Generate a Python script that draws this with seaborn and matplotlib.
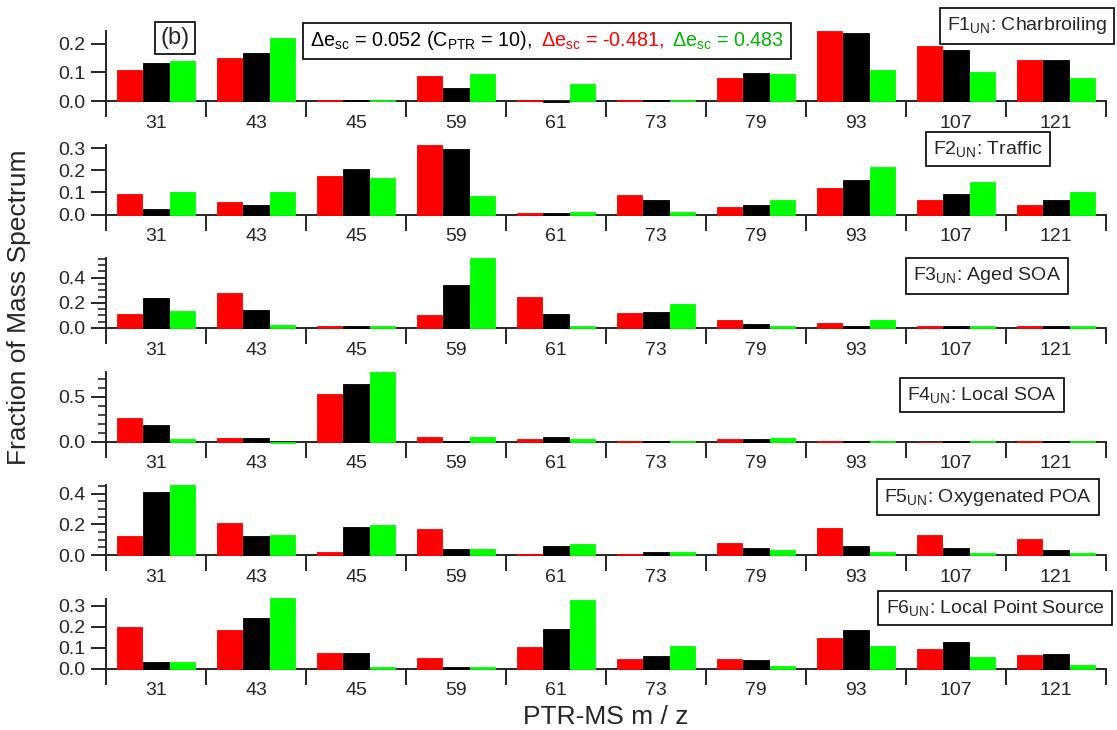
import matplotlib
matplotlib.use("Agg")
import matplotlib.pyplot as plt
import seaborn as sns
import pandas as pd
import numpy as np
from matplotlib.ticker import FormatStrFormatter, MultipleLocator
from matplotlib.offsetbox import TextArea, HPacker, AnchoredOffsetbox

# m/z categories
mz = ["31", "43", "45", "59", "61", "73", "79", "93", "107", "121"]

factor_names = [
    "F1$_{UN}$: Charbroiling",
    "F2$_{UN}$: Traffic",
    "F3$_{UN}$: Aged SOA",
    "F4$_{UN}$: Local SOA",
    "F5$_{UN}$: Oxygenated POA",
    "F6$_{UN}$: Local Point Source",
]

# red: de_sc = -0.481, one row per factor
red_vals = [
    [0.108, 0.149, 0.004, 0.089, 0.004, 0.004, 0.079, 0.245, 0.194, 0.142],
    [0.091, 0.058, 0.174, 0.317, 0.008, 0.090, 0.033, 0.119, 0.067, 0.043],
    [0.111, 0.281, 0.012, 0.103, 0.249, 0.120, 0.067, 0.042, 0.018, 0.016],
    [0.258, 0.042, 0.534, 0.053, 0.030, 0.006, 0.031, 0.005, -0.008, 0.006],
    [0.127, 0.208, 0.018, 0.170, 0.009, 0.005, 0.078, 0.175, 0.133, 0.106],
    [0.200, 0.185, 0.074, 0.052, 0.102, 0.044, 0.044, 0.145, 0.095, 0.064],
]
# black: de_sc = 0.052 (C_PTR = 10)
black_vals = [
    [0.132, 0.167, 0.004, 0.046, -0.003, 0.003, 0.099, 0.238, 0.179, 0.142],
    [0.026, 0.045, 0.206, 0.298, 0.005, 0.065, 0.043, 0.157, 0.095, 0.067],
    [0.235, 0.146, 0.012, 0.341, 0.114, 0.128, 0.031, 0.012, 0.013, 0.013],
    [0.182, 0.042, 0.640, 0.011, 0.050, 0.006, 0.027, 0.005, 0.006, 0.005],
    [0.409, 0.123, 0.181, 0.036, 0.058, 0.018, 0.044, 0.060, 0.044, 0.035],
    [0.033, 0.244, 0.074, 0.008, 0.191, 0.059, 0.039, 0.186, 0.125, 0.069],
]
# green: de_sc = 0.483
green_vals = [
    [0.141, 0.222, 0.004, 0.093, 0.058, 0.003, 0.095, 0.110, 0.101, 0.080],
    [0.103, 0.100, 0.165, 0.082, 0.013, 0.010, 0.067, 0.214, 0.148, 0.103],
    [0.135, 0.022, 0.012, 0.556, 0.014, 0.192, 0.014, 0.067, 0.013, 0.013],
    [0.030, -0.015, 0.784, 0.053, 0.027, 0.006, 0.039, 0.005, 0.006, 0.005],
    [0.456, 0.130, 0.197, 0.036, 0.071, 0.021, 0.030, 0.021, 0.014, 0.014],
    [0.033, 0.338, 0.008, 0.008, 0.328, 0.110, 0.014, 0.110, 0.054, 0.019],
]

y_tops = [0.245, 0.318, 0.556, 0.784, 0.456, 0.336]
y_major = [0.1, 0.1, 0.2, 0.5, 0.2, 0.1]
y_minor = [None, None, 0.05, 0.1, 0.05, None]

colors = ["#FF0000", "#000000", "#00FF00"]
runs = ["minus", "base", "plus"]

sns.set_style("ticks")
plt.rcParams["font.family"] = ["Liberation Sans", "DejaVu Sans"]
plt.rcParams["mathtext.fontset"] = "custom"
plt.rcParams["mathtext.rm"] = "Liberation Sans"
plt.rcParams["mathtext.default"] = "regular"

W, H = 1117, 730
fig = plt.figure(figsize=(W / 100, H / 100), dpi=100)

left = 106 / W
width = 1000 / W
ax_h = 70

# label box centres (pixels) for each factor
box_xy = [(1027, 26), (988, 149), (987, 276), (982, 395), (988, 497), (995, 608)]

for i in range(6):
    base = 101 + 113.5 * i
    ax = fig.add_axes([left, 1 - base / H, width, ax_h / H])

    df = pd.DataFrame({
        "mz": mz * 3,
        "run": [r for r in runs for _ in mz],
        "frac": red_vals[i] + black_vals[i] + green_vals[i],
    })
    sns.barplot(data=df, x="mz", y="frac", hue="run", hue_order=runs,
                order=mz, palette=colors, saturation=1, width=0.8, gap=0.06,
                linewidth=0, legend=False, ax=ax)
    for p in ax.patches:
        p.set_clip_on(False)
        # thin outline in the bar's own colour so near-zero bars stay visible
        p.set_edgecolor(p.get_facecolor())
        p.set_linewidth(0.6)
        p.set_zorder(3)

    ax.set_xlim(-0.5, 9.5)
    ax.set_xlabel("")
    ax.set_ylabel("")

    for s in ["top", "right"]:
        ax.spines[s].set_visible(False)
    ax.spines["bottom"].set_position(("data", 0))
    ax.spines["bottom"].set_zorder(1)
    ax.spines["left"].set_bounds(0, y_tops[i])
    ax.spines["bottom"].set_linewidth(1.4)
    ax.spines["left"].set_linewidth(1.4)

    # category boundaries as major ticks, names on minor ticks
    ax.set_xticks(np.arange(-0.5, 10, 1))
    ax.set_xticklabels([])
    ax.set_xticks(np.arange(10), minor=True)
    ax.set_xticklabels(mz, minor=True)
    ax.tick_params(axis="x", which="major", length=11.5, width=1.4, direction="out")
    ax.tick_params(axis="x", which="minor", length=0, pad=10, labelsize=14)

    ax.yaxis.set_major_locator(MultipleLocator(y_major[i]))
    ax.yaxis.set_major_formatter(FormatStrFormatter("%.1f"))
    if y_minor[i]:
        ax.yaxis.set_minor_locator(MultipleLocator(y_minor[i]))
    ax.tick_params(axis="y", which="major", length=11, width=1.4, pad=4, labelsize=14)
    ax.tick_params(axis="y", which="minor", length=6, width=1.2)
    ax.set_ylim(0, y_tops[i])

    bx, by = box_xy[i]
    fig.text(bx / W, 1 - by / H, factor_names[i], fontsize=14, ha="center", va="center",
             bbox=dict(boxstyle="square,pad=0.38", fc="white", ec="black", lw=1.2))

# (b) tag
fig.text(175 / W, 1 - 38 / H, "(b)", fontsize=17, ha="center", va="center",
         bbox=dict(boxstyle="square,pad=0.22", fc="white", ec="black", lw=1.2))

# multicoloured annotation
parts = [
    ("Δe$_{sc}$ = 0.052 (C$_{PTR}$ = 10),", "black"),
    ("Δe$_{sc}$ = -0.481,", "#FF0000"),
    ("Δe$_{sc}$ = 0.483", "#00B400"),
]
pack = HPacker(children=[TextArea(t, textprops=dict(color=c, fontsize=14.2)) for t, c in parts],
               align="baseline", pad=0, sep=6)
anno = AnchoredOffsetbox(loc="center", child=pack, pad=0.5, borderpad=0, frameon=True,
                         bbox_to_anchor=(547 / W, 1 - 41 / H), bbox_transform=fig.transFigure)
anno.patch.set_edgecolor("black")
anno.patch.set_linewidth(1.2)
anno.patch.set_boxstyle("square", pad=0)
fig.add_artist(anno)

fig.text(19 / W, 1 - 307 / H, "Fraction of Mass Spectrum", rotation=90, fontsize=19,
         ha="center", va="center")
fig.text(606 / W, 1 - 717 / H, "PTR-MS m / z", fontsize=19, ha="center", va="center")

fig.savefig("out.png", dpi=100)
